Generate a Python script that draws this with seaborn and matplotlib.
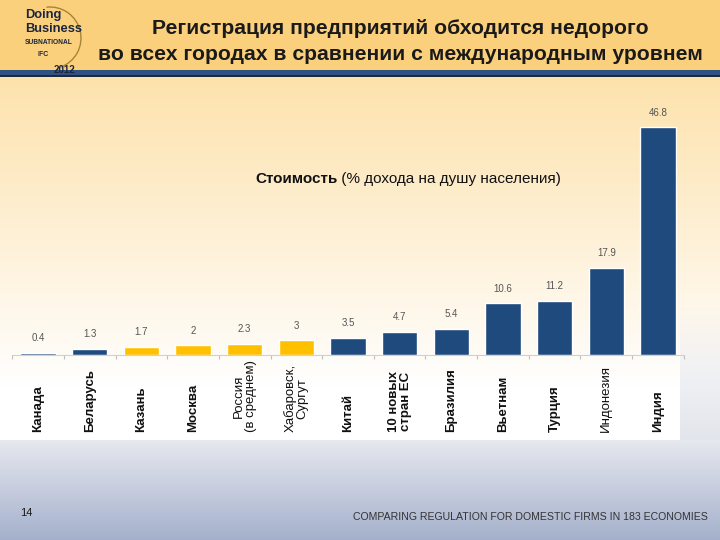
import numpy as np
import pandas as pd
import matplotlib
matplotlib.use("Agg")
import matplotlib.pyplot as plt
from matplotlib.patches import Arc
import seaborn as sns

# ---- data ----
categories = ["Канада", "Беларусь", "Казань", "Москва", "Россия\n(в среднем)",
              "Хабаровск,\nСургут", "Китай", "10 новых\nстран ЕС", "Бразилия",
              "Вьетнам", "Турция", "Индонезия", "Индия"]
values = [0.4, 1.3, 1.7, 2, 2.3, 3, 3.5, 4.7, 5.4, 10.6, 11.2, 17.9, 46.8]
value_labels = ["0.4", "1.3", "1.7", "2", "2.3", "3", "3.5", "4.7", "5.4",
                "10.6", "11.2", "17.9", "46.8"]
is_russian_city = [False, False, True, True, True, True, False, False, False,
                   False, False, False, False]
bold_label = [True, True, True, True, False, False, True, True, True,
              True, True, False, True]

title_lines = ["Регистрация предприятий обходится недорого",
               "во всех городах в сравнении с международным уровнем"]
subtitle_bold = "Стоимость"
subtitle_rest = " (% дохода на душу населения)"
footer_text = "COMPARING REGULATION FOR DOMESTIC FIRMS IN 183 ECONOMIES"
page_number = "14"

NAVY = "#1F4A7E"
GOLD = "#FFC000"

sns.set_theme(style="white")
plt.rcParams["font.family"] = ["Liberation Sans", "DejaVu Sans"]

fig = plt.figure(figsize=(7.2, 5.4), dpi=100)

# ---- slide background ----
H, W = 540, 720
bg = np.ones((H, W, 3))
def hexrgb(h):
    h = h.lstrip("#")
    return np.array([int(h[i:i + 2], 16) / 255 for i in (0, 2, 4)])
header = hexrgb("#FBD07C")
bg[:70] = header
bg[70:75] = hexrgb("#2F5283")
bg[75:77] = hexrgb("#1B2A3F")
top_c, mid_c, white = hexrgb("#FDE2AC"), hexrgb("#FEF1D8"), np.ones(3)
for r in range(77, 440):
    t = (r - 77) / (440 - 77)
    if t < 0.45:
        c = top_c + (mid_c - top_c) * (t / 0.45)
    else:
        c = mid_c + (white - mid_c) * min(1, (t - 0.45) / 0.4)
    bg[r] = c
lo1, lo2 = hexrgb("#E6E8EF"), hexrgb("#A4B0CB")
for r in range(440, H):
    t = (r - 440) / (H - 440)
    bg[r] = lo1 + (lo2 - lo1) * t
for r in range(300, 440):
    t = (r - 300) / 140
    bg[r, 680:] = bg[r, 680:] * (1 - t) + hexrgb("#E3E5EC") * t

bgax = fig.add_axes([0, 0, 1, 1], zorder=0)
bgax.imshow(bg, aspect="auto", extent=[0, 1, 0, 1], origin="upper")
bgax.axis("off")

# logo
LOGO = "#1B2540"
fig.text(25 / 720, 1 - 9 / 540, "Doing", fontsize=9.3, fontweight="bold", color=LOGO, va="top")
fig.text(25 / 720, 1 - 23 / 540, "Business", fontsize=9.3, fontweight="bold", color=LOGO, va="top")
fig.text(25 / 720, 1 - 39 / 540, "SUBNATIONAL", fontsize=4.8, fontweight="bold", color=LOGO, va="top")
fig.text(37 / 720, 1 - 51 / 540, "IFC", fontsize=5, fontweight="bold", color=LOGO, va="top")
fig.text(54 / 720, 1 - 65 / 540, "2012", fontsize=7, fontweight="bold", color=LOGO, va="top")
arc = Arc((50 / 720, 1 - 38 / 540), 62 / 720, 62 / 540, theta1=-75, theta2=95,
          color="#A88436", lw=1.0, transform=fig.transFigure)
fig.add_artist(arc)

# title
fig.text(0.556, 1 - 28 / 540, title_lines[0], fontsize=15.2, fontweight="bold",
         color="#1A1A1A", ha="center", va="center")
fig.text(0.556, 1 - 55 / 540, title_lines[1], fontsize=15.2, fontweight="bold",
         color="#1A1A1A", ha="center", va="center")

# footer
fig.text(0.036, 1 - 513 / 540, page_number, fontsize=8, color="#1A1A1A", ha="center", va="center")
fig.text(0.983, 1 - 517 / 540, footer_text, fontsize=7.6, color="#333333", ha="right", va="center")

# ---- bar chart ----
ax = fig.add_axes([12.2 / 720, 185 / 540, 671.6 / 720, 253 / 540], zorder=2)
ax.patch.set_alpha(0)
df = pd.DataFrame({"cat": categories, "val": values})
palette = [GOLD if c else NAVY for c in is_russian_city]
sns.barplot(data=df, x="cat", y="val", hue="cat", palette=palette, legend=False,
            width=0.68, saturation=1, ax=ax)
ax.set_ylim(0, 52)
ax.set_xlim(-0.5, len(categories) - 0.5)
ax.set_xlabel("")
ax.set_ylabel("")
ax.set_yticks([])
ax.set_xticks(range(len(categories)))
ax.set_xticklabels([])
ax.tick_params(axis="x", which="major", length=0)
ax.set_xticks(np.arange(-0.5, len(categories), 1), minor=True)
ax.tick_params(axis="x", which="minor", length=3, color="#BFBFBF", width=0.8, bottom=True)
for s in ["top", "left", "right"]:
    ax.spines[s].set_visible(False)
ax.spines["bottom"].set_color("#D0D0D0")
ax.spines["bottom"].set_linewidth(0.8)

for i, (v, lab) in enumerate(zip(values, value_labels)):
    ax.annotate(lab, xy=(i, v), xytext=(0, 7), textcoords="offset points",
                ha="center", va="bottom", fontsize=7, color="#555555")

trans = ax.get_xaxis_transform()
for i, (cat, b) in enumerate(zip(categories, bold_label)):
    ax.text(i, -0.305, cat, transform=trans, rotation=90, ha="center", va="bottom",
            fontsize=9.5, fontweight="bold" if b else "normal", color="#111111",
            linespacing=1.0)

# subtitle
t1 = fig.text(255 / 720, 1 - 179 / 540, subtitle_bold, fontsize=11, fontweight="bold",
              color="#111111", ha="left", va="center")
ax.annotate(subtitle_rest, xy=(1, 0.5), xycoords=t1, ha="left", va="center",
            fontsize=11, color="#111111", annotation_clip=False)

fig.savefig("out.png", dpi=100)
